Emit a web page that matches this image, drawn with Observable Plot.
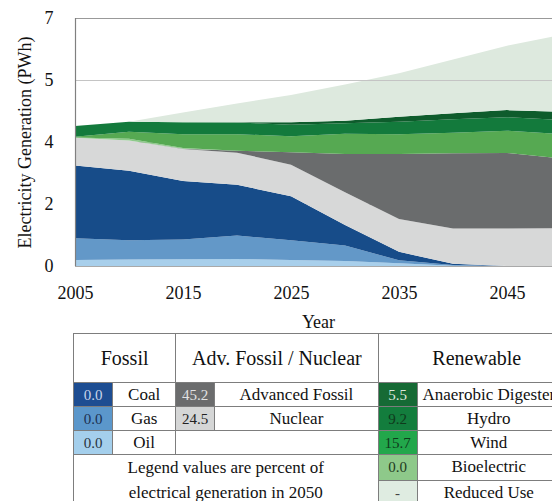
<!DOCTYPE html>
<html>
<head>
<meta charset="utf-8">
<script src="https://cdn.jsdelivr.net/npm/d3@7"></script>
<script src="https://cdn.jsdelivr.net/npm/@observablehq/plot@0.6"></script>
<style>
  html, body { margin: 0; padding: 0; background: #fff; }
  body { width: 552px; height: 501px; overflow: hidden; position: relative; font-family: "Liberation Serif", "Tinos", "DejaVu Serif", "Noto Serif", serif; }
  #chart { position: absolute; left: 0; top: 0; width: 600px; }
  #chart svg { max-width: none !important; }
  #legend { position: absolute; left: 73px; top: 333px; border-collapse: collapse; table-layout: fixed; width: 488px; color: #111; }
  #legend td { font-family: "Liberation Serif", "Tinos", "DejaVu Serif", "Noto Serif", serif; border: 1px solid #7d7d7d; padding: 0; text-align: center; vertical-align: middle; font-size: 17px; line-height: 22px; height: 23px; white-space: nowrap; overflow: visible; }
  #legend td.head { font-size: 20px; height: 48px; }
  #legend td.sw { font-size: 15px; }
  #legend td.note { font-size: 17px; line-height: 25px; }
</style>
</head>
<body>
<div id="chart"></div>
<table id="legend"></table>
<script>
// ---- data (PWh) ----
const years = [2005, 2010, 2015, 2020, 2025, 2030, 2035, 2040, 2045, 2050];
const oil        = [0.17, 0.18, 0.19, 0.20, 0.17, 0.14, 0.08, 0.01, 0.00, 0.00];
const gas        = [0.61, 0.55, 0.56, 0.66, 0.56, 0.44, 0.08, 0.02, 0.00, 0.00];
const coal       = [2.06, 1.96, 1.65, 1.43, 1.24, 0.58, 0.24, 0.03, 0.00, 0.00];
const nuclear    = [0.78, 0.85, 0.90, 0.91, 0.89, 0.92, 0.93, 1.00, 1.06, 1.07];
const advFossil  = [0.00, 0.00, 0.01, 0.05, 0.35, 1.08, 1.83, 2.12, 2.13, 1.97];
const bioelectric= [0.01, 0.05, 0.02, 0.00, 0.00, 0.00, 0.00, 0.00, 0.00, 0.00];
const wind       = [0.02, 0.20, 0.39, 0.47, 0.45, 0.57, 0.56, 0.58, 0.63, 0.68];
const hydro      = [0.30, 0.28, 0.34, 0.33, 0.33, 0.30, 0.35, 0.38, 0.38, 0.40];
const anaerobic  = [0.00, 0.00, 0.00, 0.01, 0.07, 0.07, 0.14, 0.17, 0.20, 0.23];
const reducedUse = [0.00, 0.00, 0.27, 0.53, 0.77, 1.02, 1.23, 1.52, 1.82, 2.17];

const seriesNames = ["Oil", "Gas", "Coal", "Nuclear", "Advanced Fossil", "Bioelectric", "Wind", "Hydro", "Anaerobic Digester", "Reduced Use"];
const seriesValues = [oil, gas, coal, nuclear, advFossil, bioelectric, wind, hydro, anaerobic, reducedUse];
const areaColors = ["#a8cfeb", "#6398c8", "#174c89", "#d7d8d8", "#6a6c6d", "#8dc98a", "#56a952", "#137a3c", "#0e5c2c", "#dde9de"];

const xTicks = [2005, 2015, 2025, 2035, 2045];
const yTicks = [0, 1.75, 3.5, 5.25, 7];

// legend table content
const fossilNames = ["Coal", "Gas", "Oil"];
const fossilPct = ["0.0", "0.0", "0.0"];
const fossilSw = ["#1d4d92", "#5b97cb", "#a4cfec"];
const fossilTxt = ["#c9d5ea", "#1c3050", "#2a3440"];
const advNames = ["Advanced Fossil", "Nuclear"];
const advPct = ["45.2", "24.5"];
const advSw = ["#6b6c6d", "#d5d6d6"];
const advTxt = ["#e2e2e2", "#222"];
const renewNames = ["Anaerobic Digester", "Hydro", "Wind", "Bioelectric", "Reduced Use"];
const renewPct = ["5.5", "9.2", "15.7", "0.0", "-"];
const renewSw = ["#166a35", "#137d3d", "#22a74b", "#8ec98a", "#dfece1"];
const renewTxt = ["#dde8dd", "#0f3a1c", "#0f3a1c", "#1e3a1e", "#444"];
const groupNames = ["Fossil", "Adv. Fossil / Nuclear", "Renewable"];
const noteLines = ["Legend values are percent of", "electrical generation in 2050"];

// ---- build tidy table ----
const rows = [];
seriesNames.forEach((s, i) => {
  years.forEach((yr, j) => rows.push({series: s, year: yr, value: seriesValues[i][j]}));
});

const serifStack = "'Liberation Serif', 'Tinos', 'DejaVu Serif', 'Noto Serif', serif";
const chart = Plot.plot({
  width: 600,
  height: 332,
  marginLeft: 75,
  marginRight: 39,
  marginTop: 18,
  marginBottom: 66,
  style: {fontFamily: serifStack, fontSize: "18px", color: "#111", background: "#fff", maxWidth: "none"},
  x: {domain: [2005, 2050], ticks: xTicks, tickFormat: d => String(d), tickSize: 0, tickPadding: 20, label: null},
  y: {domain: [0, 7], ticks: yTicks, tickFormat: d => String(Math.round(d)), tickSize: 0, tickPadding: 22, label: null},
  color: {domain: seriesNames, range: areaColors},
  marks: [
    Plot.ruleY(yTicks, {stroke: "#bdbdbd", strokeWidth: 1}),
    Plot.areaY(rows, {x: "year", y: "value", z: "series", fill: "series", order: seriesNames, curve: "linear"}),
    Plot.ruleY([5.25], {stroke: "#c4c4c4", strokeWidth: 1}),
    Plot.ruleY([7], {stroke: "#999", strokeWidth: 1}),
    Plot.ruleY([0], {stroke: "#a9a9a9", strokeWidth: 1.2}),
    Plot.ruleX([2005], {stroke: "#808080", strokeWidth: 1.2}),
    Plot.text(["Electricity Generation (PWh)"], {frameAnchor: "left", textAnchor: "middle", lineAnchor: "middle", rotate: -90, dx: -50, fontSize: 18, fill: "#111"}),
    Plot.text(["Year"], {frameAnchor: "bottom", textAnchor: "middle", lineAnchor: "middle", dy: 56, fontSize: 18, fill: "#111"})
  ]
});
chart.style.maxWidth = "none";
chart.style.fontFamily = serifStack;
document.getElementById("chart").appendChild(chart);

// ---- legend table ----
const tbl = document.getElementById("legend");
const colgroup = document.createElement("colgroup");
[39, 63, 39, 163, 39, 143].forEach(w => { const c = document.createElement("col"); c.style.width = w + "px"; colgroup.appendChild(c); });
tbl.appendChild(colgroup);

function cell(tr, text, opts = {}) {
  const td = document.createElement("td");
  if (opts.cls) td.className = opts.cls;
  if (opts.colSpan) td.colSpan = opts.colSpan;
  if (opts.rowSpan) td.rowSpan = opts.rowSpan;
  if (opts.bg) td.style.background = opts.bg;
  if (opts.color) td.style.color = opts.color;
  if (Array.isArray(text)) { text.forEach((t, i) => { if (i) td.appendChild(document.createElement("br")); td.appendChild(document.createTextNode(t)); }); }
  else td.textContent = text;
  tr.appendChild(td);
  return td;
}

let tr = document.createElement("tr");
groupNames.forEach((g, i) => {
  const td = cell(tr, g, {cls: "head", colSpan: 2});
  if (i === 2) td.style.paddingLeft = "15px";
});
tbl.appendChild(tr);

for (let r = 0; r < 5; r++) {
  tr = document.createElement("tr");
  if (r < 3) {
    cell(tr, fossilPct[r], {cls: "sw", bg: fossilSw[r], color: fossilTxt[r]});
    cell(tr, fossilNames[r]);
    if (r < 2) {
      cell(tr, advPct[r], {cls: "sw", bg: advSw[r], color: advTxt[r]});
      cell(tr, advNames[r]);
    } else {
      cell(tr, "", {colSpan: 2});
    }
  } else if (r === 3) {
    cell(tr, noteLines, {cls: "note", colSpan: 4, rowSpan: 2});
  }
  cell(tr, renewPct[r], {cls: "sw", bg: renewSw[r], color: renewTxt[r]});
  cell(tr, renewNames[r]);
  tbl.appendChild(tr);
}
</script>
</body>
</html>
